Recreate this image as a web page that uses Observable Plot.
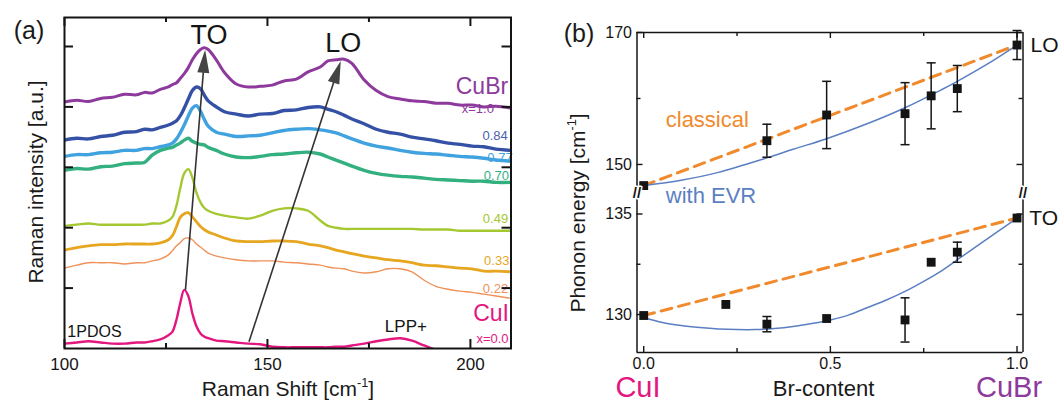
<!DOCTYPE html>
<html>
<head>
<meta charset="utf-8">
<script src="https://cdn.jsdelivr.net/npm/d3@7"></script>
<script src="https://cdn.jsdelivr.net/npm/@observablehq/plot@0.6"></script>
<style>
  body { margin: 0; background: #fff; }
  #wrap { position: relative; width: 1061px; height: 403px; overflow: hidden; background: #fff;
          font-family: "Liberation Sans", Arial, sans-serif; color: #1a1a1a; }
  #wrap svg { position: absolute; }
  .lbl { position: absolute; white-space: nowrap; line-height: 0.8; transform: translate(-50%, -50%); }
  .lbl sup { font-size: 0.6em; vertical-align: 0.7em; line-height: 0; }
  .rot { transform: translate(-50%, -50%) rotate(-90deg); }
</style>
</head>
<body>
<div id="wrap"></div>
<script>
const FONT = '"Liberation Sans", Arial, sans-serif';

// ---------- (a) Raman spectra of CuBr(x)I(1-x), vertically offset ----------
const shift = [100,103,105.9,108.9,111.8,114.8,117.7,119.7,121.6,123.6,125.6,126.6,127.6,128.5,129.5,130.5,131.5,132.5,133.5,134.4,135.4,137.4,139.4,142.3,145.3,148.2,151.2,154.1,157.1,160,163,164.9,166.9,168.9,170.8,173.8,176.8,179.7,182.7,185.6,188.6,191.5,194.5,197.4,200.4,203.3,206.3,210];

const cuBr = [4.08,4.11,4.09,4.14,4.16,4.21,4.20,4.24,4.23,4.29,4.33,4.37,4.40,4.47,4.55,4.65,4.78,4.88,4.95,4.98,4.95,4.78,4.57,4.38,4.33,4.34,4.36,4.43,4.46,4.58,4.66,4.76,4.78,4.79,4.72,4.45,4.27,4.17,4.13,4.10,4.09,4.06,4.06,4.03,4.03,4.00,4.01,3.98];
const x084 = [3.45,3.48,3.47,3.51,3.53,3.58,3.59,3.63,3.62,3.66,3.70,3.73,3.77,3.85,3.98,4.13,4.27,4.33,4.30,4.20,4.10,4.00,3.92,3.88,3.85,3.88,3.89,3.94,3.95,3.99,4.00,3.96,3.92,3.86,3.80,3.72,3.63,3.58,3.55,3.50,3.47,3.44,3.40,3.38,3.35,3.34,3.30,3.28];
const x077 = [3.18,3.21,3.21,3.24,3.25,3.28,3.28,3.31,3.31,3.34,3.37,3.40,3.47,3.57,3.70,3.85,3.98,4.02,3.93,3.80,3.68,3.58,3.55,3.51,3.52,3.53,3.57,3.61,3.63,3.64,3.62,3.60,3.57,3.52,3.47,3.40,3.35,3.32,3.28,3.25,3.23,3.22,3.20,3.18,3.17,3.15,3.12,3.10];
const x070 = [2.95,2.98,2.97,3.01,3.02,3.06,3.07,3.08,3.20,3.28,3.32,3.33,3.37,3.40,3.45,3.48,3.43,3.40,3.38,3.37,3.33,3.28,3.22,3.17,3.16,3.18,3.21,3.22,3.24,3.25,3.22,3.17,3.12,3.07,3.02,2.95,2.90,2.87,2.85,2.84,2.82,2.80,2.79,2.78,2.77,2.77,2.75,2.75];
const x049 = [2.03,2.05,2.07,2.05,2.05,2.05,2.05,2.05,2.07,2.07,2.12,2.18,2.37,2.65,2.90,2.97,2.83,2.58,2.42,2.33,2.28,2.23,2.20,2.17,2.15,2.20,2.28,2.32,2.32,2.28,2.12,2.03,2.00,1.98,1.98,1.98,1.98,1.98,1.98,1.98,1.97,1.97,1.97,1.95,1.95,1.95,1.95,1.95];
const x033 = [1.63,1.67,1.70,1.72,1.72,1.73,1.73,1.73,1.73,1.75,1.80,1.87,2.02,2.17,2.23,2.25,2.18,2.10,2.02,1.97,1.93,1.88,1.83,1.78,1.77,1.77,1.78,1.78,1.77,1.73,1.70,1.67,1.63,1.60,1.57,1.53,1.50,1.47,1.45,1.42,1.38,1.37,1.35,1.33,1.32,1.28,1.28,1.27];
const x022 = [1.33,1.38,1.42,1.42,1.42,1.40,1.42,1.42,1.45,1.48,1.55,1.62,1.70,1.75,1.82,1.83,1.80,1.73,1.68,1.63,1.58,1.53,1.50,1.47,1.45,1.45,1.45,1.43,1.42,1.40,1.38,1.35,1.33,1.32,1.28,1.25,1.27,1.32,1.32,1.27,1.13,1.03,0.98,0.95,0.93,0.90,0.87,0.83];
const cuI  = [0.08,0.10,0.12,0.10,0.08,0.08,0.10,0.10,0.12,0.15,0.22,0.28,0.48,0.75,0.97,0.87,0.58,0.37,0.25,0.20,0.17,0.13,0.12,0.10,0.08,0.07,0.03,0.02,0.02,0.02,0.02,0.02,0.03,0.03,0.05,0.08,0.12,0.15,0.17,0.13,0.05,-0.02,-0.05,-0.08,-0.10,-0.12,-0.12,-0.13];

const spectra = [cuI, x022, x033, x049, x070, x077, x084, cuBr];
const spectraColors = ["#e3177f", "#f0915a", "#e6a61f", "#a5c832", "#33b07f", "#40a2de", "#3451a6", "#8d3a9c"];
const spectraWidths = [2.4, 1.4, 2.8, 2.4, 3.4, 3.4, 3.4, 3.0];

// composition labels at the right-hand end of each trace
const tagText  = ["CuBr", "x=1.0", "0.84", "0.77", "0.70", "0.49", "0.33", "0.22", "CuI", "x=0.0"];
const tagX     = [209.3, 205.8, 209.2, 210.4, 209.5, 209.3, 209.6, 209.3, 209.5, 209.4];
const tagY     = [4.34, 3.96, 3.52, 3.16, 2.86, 2.14, 1.45, 0.99, 0.57, 0.16];
const tagColor = ["#8d3a9c", "#8d3a9c", "#4a60b0", "#40a2de", "#33b07f", "#a5c832", "#e6a61f", "#f0915a", "#e3177f", "#e3177f"];
const tagSize  = [23, 13, 13, 13, 13, 13, 13, 13, 23, 13];

// mode-shift arrows (TO, LO): tail, head base and heading in degrees
const arrowName  = ["TO", "LO"];
const arrowFromX = [129.8, 145.45];
const arrowFromY = [0.97, 0.11];
const arrowHeadX = [134.33, 166.83];
const arrowHeadY = [4.68, 4.51];
const arrowAngle = [4.6, 18.1];
const arrowTagX  = [135.6, 168.7];
const arrowTagY  = [5.19, 5.06];

const xTicksMajorA = [100, 150, 200];
const xTicksMinorA = [125, 175];
const yTicksA = [1, 2, 3, 4, 5];

// ---------- (b) phonon energies vs Br content ----------
const loX   = [0, 0.33, 0.49, 0.70, 0.77, 0.84, 1.0];
const loE   = [146.8, 153.6, 157.5, 157.7, 160.4, 161.5, 168.1];
const loErr = [0, 2.5, 5.1, 4.7, 5.0, 3.5, 2.2];
const toX   = [0, 0.22, 0.33, 0.49, 0.70, 0.77, 0.84, 1.0];
const toE   = [129.95, 130.5, 129.52, 129.8, 129.73, 132.6, 133.1, 134.8];
const toErr = [0, 0, 0.38, 0, 1.1, 0, 0.5, 0];

const classicalX  = [0, 1];
const classicalLO = [146.8, 168.1];
const classicalTO = [129.95, 134.8];

const evrLOx = [0, 0.1, 0.2, 0.33, 0.4, 0.49, 0.6, 0.7, 0.8, 0.84, 0.92, 1.0];
const evrLO  = [146.8, 147.6, 148.8, 151.0, 152.3, 153.9, 156.2, 158.6, 161.4, 162.6, 165.2, 168.1];
const evrTOx = [0, 0.05, 0.1, 0.15, 0.2, 0.25, 0.3, 0.35, 0.4, 0.45, 0.5, 0.55, 0.6, 0.65, 0.7, 0.75, 0.8, 0.85, 0.9, 0.95, 1.0];
const evrTO  = [129.85, 129.6, 129.45, 129.35, 129.28, 129.25, 129.25, 129.3, 129.4, 129.55, 129.73, 129.98, 130.35, 130.72, 131.15, 131.65, 132.2, 132.85, 133.5, 134.15, 134.8];

const xDomainB = [-0.018, 1.016];
const yDomainLO = [145.6, 170];
const yDomainTO = [128.11, 136.02];
const xTicksMajorB = [0, 0.5, 1];
const xTicksMinorB = [0.25, 0.75];
const yTicksLO = [150, 170], yTicksLOminor = [160];
const yTicksTO = [130, 135], yTicksTOminor = [132.5];

const orange = "#f08a2c", blue = "#5b7fc2", ink = "#141414";

// ---------- helpers ----------
const arrowHead = deg => {
  const a = deg * Math.PI / 180, c = Math.cos(a), s = Math.sin(a);
  const pts = [[0, -16], [-6, 7], [6, 7]].map(([x, y]) => [x * c - y * s, x * s + y * c]);
  return {draw(ctx) { ctx.moveTo(...pts[0]); ctx.lineTo(...pts[1]); ctx.lineTo(...pts[2]); ctx.closePath(); }};
};
const capSymbol = {draw(ctx, size) { const r = Math.sqrt(size / Math.PI); ctx.moveTo(-r, 0); ctx.lineTo(r, 0); }};

// inward ticks on the sides of a frame
function inwardTicks(innerW, innerH, xs, ys, len, opts = {}) {
  const o = {stroke: ink, strokeWidth: 1.4, ...opts};
  const m = [];
  if (xs.bottom) m.push(Plot.tickX(xs.bottom, {x: d => d, insetTop: innerH - len, ...o}));
  if (xs.top) m.push(Plot.tickX(xs.top, {x: d => d, insetBottom: innerH - len, ...o}));
  if (ys) {
    m.push(Plot.tickY(ys, {y: d => d, insetRight: innerW - len, ...o}));
    m.push(Plot.tickY(ys, {y: d => d, insetLeft: innerW - len, ...o}));
  }
  return m;
}

const styleA = {fontFamily: FONT, fontSize: "17px", background: "transparent", overflow: "visible", color: ink};
const styleB = {...styleA, fontSize: "16px"};
const wrap = document.getElementById("wrap");
const place = (node, left, top) => { node.style.left = left + "px"; node.style.top = top + "px"; wrap.appendChild(node); };

// ---------- panel (a) ----------
const aW = 520, aH = 403, aML = 64, aMR = 9.5, aMT = 17, aMB = 55;
const aIW = aW - aML - aMR, aIH = aH - aMT - aMB;
const tags = tagText.map((t, i) => ({t, x: tagX[i], y: tagY[i], c: tagColor[i], s: tagSize[i]}));
const arrows = arrowName.map((n, i) => ({n, x1: arrowFromX[i], y1: arrowFromY[i], x2: arrowHeadX[i], y2: arrowHeadY[i], tx: arrowTagX[i], ty: arrowTagY[i]}));

const panelA = Plot.plot({
  width: aW, height: aH,
  marginLeft: aML, marginRight: aMR, marginTop: aMT, marginBottom: aMB,
  style: styleA,
  x: {domain: [100, 210]},
  y: {domain: [0, 5.48], axis: null},
  color: {type: "identity"},
  marks: [
    ...spectra.map((vals, k) => Plot.line(shift, {
      x: d => d, y: (d, i) => vals[i],
      stroke: spectraColors[k], strokeWidth: spectraWidths[k],
      curve: "catmull-rom", clip: true
    })),
    Plot.link(arrows, {x1: "x1", y1: "y1", x2: "x2", y2: "y2", stroke: "#333", strokeWidth: 1.6}),
    ...arrows.map((a, i) => Plot.dot([a], {x: "x2", y: "y2", symbol: arrowHead(arrowAngle[i]), r: 6, fill: "#444", stroke: "none"})),
    Plot.text(arrows, {x: "tx", y: "ty", text: "n", fontSize: 27, fill: ink}),
    Plot.text(tags, {x: "x", y: "y", text: "t", fill: "c", fontSize: "s", textAnchor: "end"}),
    Plot.text(["1PDOS"], {x: 100.7, y: 0.27, textAnchor: "start", fontSize: 16, fill: ink}),
    Plot.text(["LPP+"], {x: 184.1, y: 0.36, fontSize: 17, fill: ink}),
    Plot.frame({stroke: ink, strokeWidth: 2}),
    ...inwardTicks(aIW, aIH, {bottom: xTicksMajorA, top: xTicksMajorA}, yTicksA, 9, {strokeWidth: 2}),
    ...inwardTicks(aIW, aIH, {bottom: xTicksMinorA, top: xTicksMinorA}, null, 5, {strokeWidth: 2}),
    Plot.axisX({ticks: xTicksMajorA, tickSize: 0, tickPadding: 9, label: null, tickFormat: d3.format("d")})
  ]
});
place(panelA, 0, 0);

// ---------- panel (b), upper part: LO ----------
const bW = 531, bML = 106.5, bMR = 38.5;
const bIW = bW - bML - bMR;
const loRows = loX.map((x, i) => ({x, e: loE[i], err: loErr[i]}));
const toRows = toX.map((x, i) => ({x, e: toE[i], err: toErr[i]}));

function errorMarks(rows) {
  const withErr = rows.filter(d => d.err > 0);
  return [
    Plot.ruleX(withErr, {x: "x", y1: d => d.e - d.err, y2: d => d.e + d.err, stroke: ink, strokeWidth: 1.5}),
    Plot.dot(withErr, {x: "x", y: d => d.e + d.err, symbol: capSymbol, r: 4.5, stroke: ink, strokeWidth: 1.5}),
    Plot.dot(withErr, {x: "x", y: d => d.e - d.err, symbol: capSymbol, r: 4.5, stroke: ink, strokeWidth: 1.5}),
    Plot.dot(rows, {x: "x", y: "e", symbol: "square", r: 5, fill: ink})
  ];
}

const upH = 193, upMT = 32;
const panelBup = Plot.plot({
  width: bW, height: upH, marginLeft: bML, marginRight: bMR, marginTop: upMT, marginBottom: 0,
  style: styleB,
  x: {domain: xDomainB, axis: null},
  y: {domain: yDomainLO},
  marks: [
    Plot.line(classicalX, {x: d => d, y: (d, i) => classicalLO[i], stroke: orange, strokeWidth: 3, strokeDasharray: "11,7"}),
    Plot.line(evrLOx, {x: d => d, y: (d, i) => evrLO[i], stroke: blue, strokeWidth: 1.5, curve: "catmull-rom"}),
    ...errorMarks(loRows),
    Plot.text(["classical"], {x: 0.059, y: 156.8, textAnchor: "start", fontSize: 22, fill: orange}),
    Plot.text(["LO"], {x: 1.036, y: 168.1, textAnchor: "start", fontSize: 21, fill: ink}),
    Plot.ruleX(xDomainB, {stroke: ink, strokeWidth: 1.5}),
    Plot.ruleY([yDomainLO[1]], {stroke: ink, strokeWidth: 1.5}),
    ...inwardTicks(bIW, upH - upMT, {top: xTicksMajorB}, yTicksLO, 6),
    ...inwardTicks(bIW, upH - upMT, {top: xTicksMinorB}, yTicksLOminor, 4),
    Plot.axisY({ticks: yTicksLO, tickSize: 0, tickPadding: 5, label: null})
  ]
});
place(panelBup, 530, 0);

// ---------- panel (b), lower part: TO ----------
const loH = 210, loMB = 51;
const panelBlow = Plot.plot({
  width: bW, height: loH, marginLeft: bML, marginRight: bMR, marginTop: 0, marginBottom: loMB,
  style: styleB,
  x: {domain: xDomainB},
  y: {domain: yDomainTO},
  marks: [
    Plot.line(classicalX, {x: d => d, y: (d, i) => classicalTO[i], stroke: orange, strokeWidth: 3, strokeDasharray: "11,7"}),
    Plot.line(evrTOx, {x: d => d, y: (d, i) => evrTO[i], stroke: blue, strokeWidth: 1.5, curve: "catmull-rom"}),
    ...errorMarks(toRows),
    Plot.text(["with EVR"], {x: 0.059, y: 135.9, textAnchor: "start", fontSize: 22, fill: blue}),
    Plot.text(["TO"], {x: 1.033, y: 134.8, textAnchor: "start", fontSize: 21, fill: ink}),
    Plot.ruleX(xDomainB, {stroke: ink, strokeWidth: 1.5}),
    Plot.ruleY([yDomainTO[0]], {stroke: ink, strokeWidth: 1.5}),
    ...inwardTicks(bIW, loH - loMB, {bottom: xTicksMajorB}, yTicksTO, 6),
    ...inwardTicks(bIW, loH - loMB, {bottom: xTicksMinorB}, yTicksTOminor, 4),
    // axis-break marks where the two parts meet, on both sides
    Plot.text(["//"], {frameAnchor: "top-left", textAnchor: "middle", lineAnchor: "middle", fontSize: 15, fontWeight: "bold", fill: ink, stroke: "white", strokeWidth: 3}),
    Plot.text(["//"], {frameAnchor: "top-right", textAnchor: "middle", lineAnchor: "middle", fontSize: 15, fontWeight: "bold", fill: ink, stroke: "white", strokeWidth: 3}),
    Plot.axisY({ticks: yTicksTO, tickSize: 0, tickPadding: 5, label: null}),
    Plot.axisX({ticks: xTicksMajorB, tickSize: 0, tickPadding: 5, label: null, tickFormat: d3.format(".1f")})
  ]
});
place(panelBlow, 530, 193);

// ---------- titles and axis labels ----------
const labels = [
  {html: "(a)", x: 29, y: 30, size: 25},
  {html: "Raman intensity [a.u.]", x: 35.5, y: 182, size: 21, rot: true},
  {html: "Raman Shift [cm<sup>-1</sup>]", x: 288, y: 389, size: 21},
  {html: "(b)", x: 579, y: 33, size: 25},
  {html: "Phonon energy [cm<sup>-1</sup>]", x: 577.5, y: 213, size: 21, rot: true},
  {html: "Br-content", x: 823.5, y: 389, size: 22},
  {html: "CuI", x: 638, y: 387.5, size: 29, color: "#e3177f"},
  {html: "CuBr", x: 1009, y: 387.5, size: 29, color: "#8d3a9c"}
];
for (const l of labels) {
  const d = document.createElement("div");
  d.className = "lbl" + (l.rot ? " rot" : "");
  d.innerHTML = l.html;
  d.style.left = l.x + "px";
  d.style.top = l.y + "px";
  d.style.fontSize = l.size + "px";
  if (l.color) d.style.color = l.color;
  wrap.appendChild(d);
}
</script>
</body>
</html>
